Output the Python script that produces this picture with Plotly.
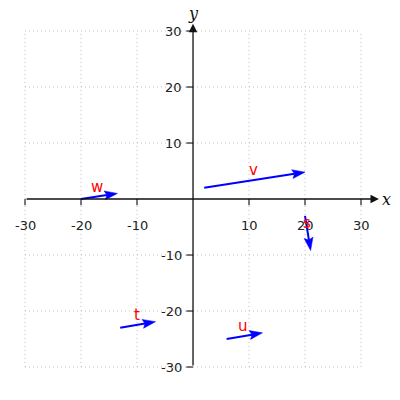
import math
import plotly.graph_objects as go

# vectors: tail point and components
names = ["w", "v", "s", "t", "u"]
tail_x = [-20, 2, 20, -13, 6]
tail_y = [0, 2, -3, -23, -25]
comp_x = [6.5, 18, 1, 6.3, 6.4]
comp_y = [1, 2.8, -6.2, 1.1, 1.1]
label_x = [-17.1, 10.8, 20.3, -10.0, 8.9]
label_y = [2.1, 5.1, -4.2, -20.7, -22.7]

ticks = [-30, -20, -10, 10, 20, 30]
tick_text = ["-30", "-20", "-10", "10", "20", "30"]

HEAD_LEN = 2.3    # in axis units (both axes share the same scale)
HEAD_AXIS = 1.9
HEAD_HALF = 0.8

fig = go.Figure()
shapes = []
annotations = []

# dotted grid, only inside -30..30
for v in ticks:
    shapes.append(dict(type="line", x0=v, x1=v, y0=-30, y1=30,
                       line=dict(color="#c0c0c0", width=1, dash="1px,3px")))
    shapes.append(dict(type="line", x0=-30, x1=30, y0=v, y1=v,
                       line=dict(color="#c0c0c0", width=1, dash="1px,3px")))

# tick marks
for v in ticks:
    shapes.append(dict(type="line", x0=v, x1=v, y0=0, y1=-1.1,
                       line=dict(color="#222", width=1.2)))
    shapes.append(dict(type="line", x0=-1.2, x1=0, y0=v, y1=v,
                       line=dict(color="#222", width=1.2)))

# axes with arrow heads
annotations.append(dict(x=33.2, y=0, ax=-30, ay=0, xref="x", yref="y", axref="x", ayref="y",
                        text="", showarrow=True, arrowhead=2, arrowsize=1.3, arrowwidth=1.3,
                        arrowcolor="#111"))
annotations.append(dict(x=0, y=31.3, ax=0, ay=-30, xref="x", yref="y", axref="x", ayref="y",
                        text="", showarrow=True, arrowhead=2, arrowsize=1.3, arrowwidth=1.3,
                        arrowcolor="#111"))
annotations.append(dict(x=34.6, y=0, xref="x", yref="y", text="<i>x</i>", showarrow=False,
                        font=dict(family="DejaVu Serif", size=16, color="#111"),
                        xanchor="center", yanchor="middle"))
annotations.append(dict(x=0, y=33.2, xref="x", yref="y", text="<i>y</i>", showarrow=False,
                        font=dict(family="DejaVu Serif", size=16, color="#111"),
                        xanchor="center", yanchor="middle"))

# tick labels
for v, lab in zip(ticks, tick_text):
    annotations.append(dict(x=v, y=-4.8, xref="x", yref="y", text=lab, showarrow=False,
                            font=dict(family="DejaVu Sans", size=13, color="#222"),
                            xanchor="center", yanchor="middle"))
    annotations.append(dict(x=-1.7, y=v, xref="x", yref="y", text=lab, showarrow=False,
                            font=dict(family="DejaVu Sans", size=13, color="#222"),
                            xanchor="right", yanchor="middle"))

# the vectors: shaft + notched head, built from the vector data
for n, x0, y0, dx, dy, lx, ly in zip(names, tail_x, tail_y, comp_x, comp_y, label_x, label_y):
    L = math.hypot(dx, dy)
    ux, uy = dx / L, dy / L
    nx, ny = -uy, ux
    tx, ty = x0 + dx, y0 + dy
    bx, by = tx - HEAD_LEN * ux, ty - HEAD_LEN * uy
    mx, my = tx - HEAD_AXIS * ux, ty - HEAD_AXIS * uy
    shapes.append(dict(type="line", x0=x0, y0=y0, x1=mx, y1=my,
                       line=dict(color="blue", width=2)))
    path = (f"M{tx},{ty} L{bx + HEAD_HALF * nx},{by + HEAD_HALF * ny} "
            f"L{mx},{my} L{bx - HEAD_HALF * nx},{by - HEAD_HALF * ny} Z")
    shapes.append(dict(type="path", path=path, fillcolor="blue",
                       line=dict(color="blue", width=0.5)))
    annotations.append(dict(x=lx, y=ly, xref="x", yref="y", text=n, showarrow=False,
                            font=dict(family="DejaVu Sans", size=15, color="red"),
                            xanchor="center", yanchor="middle"))

fig.add_trace(go.Scatter(x=[None], y=[None], showlegend=False))
# the page body keeps an 8px margin, so the figure is 392px and the ranges allow for it
fig.update_layout(
    width=392, height=392,
    margin=dict(l=0, r=0, t=0, b=0),
    plot_bgcolor="white", paper_bgcolor="white",
    xaxis=dict(range=[-33.04, 36.96], visible=False),
    yaxis=dict(range=[-35.89, 34.11], visible=False),
    shapes=shapes, annotations=annotations, showlegend=False,
)
fig.write_html("out.html")
